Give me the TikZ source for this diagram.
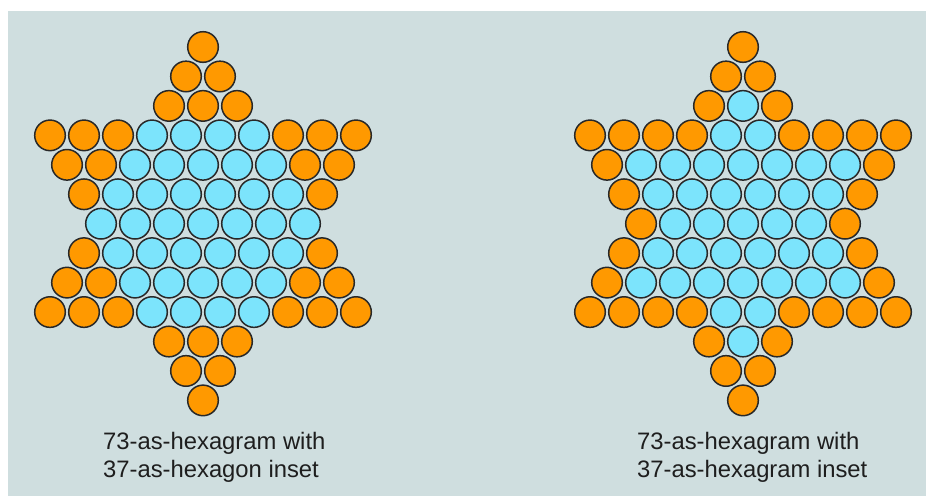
\documentclass[tikz,border=0pt]{standalone}
\usepackage{fontspec}
\setmainfont{Liberation Sans}
\definecolor{bggrey}{RGB}{207,222,223}
\definecolor{corange}{RGB}{255,153,0}
\definecolor{cblue}{RGB}{124,228,252}
\definecolor{cline}{RGB}{40,40,40}
\definecolor{ctext}{RGB}{30,30,30}
\tikzset{
  ball/.style={circle, draw=cline, line width=1.5pt, minimum size=30.6pt, inner sep=0pt},
  caption/.style={anchor=base west, inner sep=0pt, text=ctext, font=\fontsize{23.8}{28}\selectfont}
}
\begin{document}
\begin{tikzpicture}[x=1pt,y=-1pt]
\useasboundingbox (0,0) rectangle (926,496);
\fill[white] (0,0) rectangle (926,496);
\fill[bggrey] (8,11) rectangle (926,496);
\foreach \r/\n/\bl/\br in {0/1/0/0, 1/2/0/0, 2/3/0/1, 3/10/4/2, 4/9/5/7, 5/8/6/6, 6/7/7/5, 7/8/6/6, 8/9/5/7, 9/10/4/2, 10/3/0/1, 11/2/0/0, 12/1/0/0} {
  \foreach \i in {1,...,\n} {
    \pgfmathsetmacro\xx{203+(\i-(\n+1)/2)*34}
    \pgfmathsetmacro\yy{47+\r*29.45}
    \pgfmathtruncatemacro\isL{abs(2*\i-\n-1)<\bl}
    \pgfmathtruncatemacro\isR{abs(2*\i-\n-1)<\br}
    \ifnum\isL=1 \def\cL{cblue}\else\def\cL{corange}\fi
    \ifnum\isR=1 \def\cR{cblue}\else\def\cR{corange}\fi
    \node[ball, fill=\cL] (L-\r-\i) at (\xx,\yy) {};
    \node[ball, fill=\cR] (R-\r-\i) at (\xx+540,\yy) {};
  }
}
\node[caption] (capL1) at (103,449) {73-as-hexagram with};
\node[caption] (capL2) at (103,477) {37-as-hexagon inset};
\node[caption] (capR1) at (637,449) {73-as-hexagram with};
\node[caption] (capR2) at (637,477) {37-as-hexagram inset};
\end{tikzpicture}
\end{document}
